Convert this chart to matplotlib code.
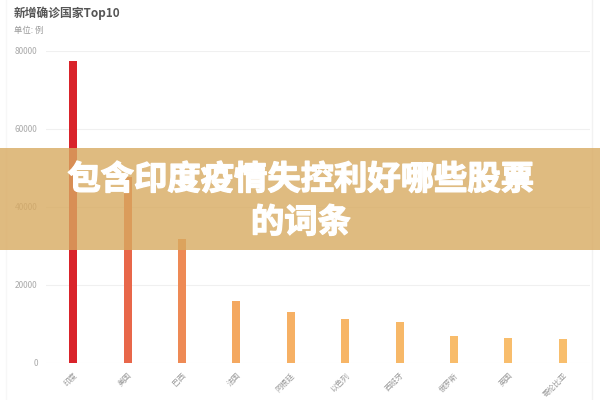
import matplotlib
matplotlib.use("Agg")
import matplotlib.pyplot as plt
import matplotlib.patheffects as pe
from matplotlib.patches import Rectangle

plt.rcParams['font.family'] = ['Noto Sans CJK SC', 'DejaVu Sans']

# data
countries = ["印度", "美国", "巴西", "法国", "阿根廷", "以色列", "西班牙", "俄罗斯", "英国", "哥伦比亚"]
cases = [77400, 47800, 31900, 15950, 13200, 11300, 10400, 7000, 6350, 6250]
bar_colors = ["#d9232a", "#e8674a", "#ee8a55", "#f4a860", "#f6b064",
              "#f7b566", "#f7b868", "#f8bc6b", "#f8bd6c", "#f8be6d"]
yticks = [0, 20000, 40000, 60000, 80000]

fig = plt.figure(figsize=(6, 4), dpi=100)
ax = fig.add_axes([46 / 600, 37 / 400, 544 / 600, 312 / 400])

x = range(len(countries))
ax.bar(x, cases, width=0.15, color=bar_colors, zorder=3)

ax.set_xlim(-0.5, len(countries) - 0.5)
ax.set_ylim(0, 80000)
ax.set_yticks(yticks)
ax.set_yticklabels([str(v) for v in yticks], fontsize=6, color="#aaaaaa")
ax.set_xticks(list(x))
ax.set_xticklabels(countries, fontsize=5.5, color="#999999", rotation=45,
                   ha="right", va="top", rotation_mode="anchor")
ax.tick_params(axis="both", length=0, pad=6)
ax.grid(axis="y", color="#f0f0f0", linewidth=0.8, zorder=0)
for s in ax.spines.values():
    s.set_visible(False)

fig.text(14 / 600, 1 - 13 / 400, "新增确诊国家Top10", fontsize=8.5, fontweight="bold",
         color="#555555", va="center", ha="left")
fig.text(14 / 600, 1 - 30 / 400, "单位: 例", fontsize=6, color="#999999",
         va="center", ha="left")

# card border lines of the screenshot
fig.add_artist(plt.Line2D([592 / 600, 592 / 600], [0, 1], color="#f2f2f2", linewidth=1))
fig.add_artist(plt.Line2D([6 / 600, 6 / 600], [0, 1], color="#f7f7f7", linewidth=1))

# overlay band with headline
fig.add_artist(Rectangle((0, 150 / 400), 1, 102 / 400, transform=fig.transFigure,
                         facecolor="#d8aa60", alpha=0.8, edgecolor="none", zorder=5))
heavy = [pe.withStroke(linewidth=1.0, foreground="white")]
fig.text(301 / 600, 1 - 180 / 400, "包含印度疫情失控利好哪些股票", fontsize=24,
         fontweight="black", color="white", ha="center", va="center", zorder=6,
         path_effects=heavy)
fig.text(301 / 600, 1 - 223 / 400, "的词条", fontsize=24, fontweight="black",
         color="white", ha="center", va="center", zorder=6, path_effects=heavy)

fig.savefig("out.png", dpi=100)
